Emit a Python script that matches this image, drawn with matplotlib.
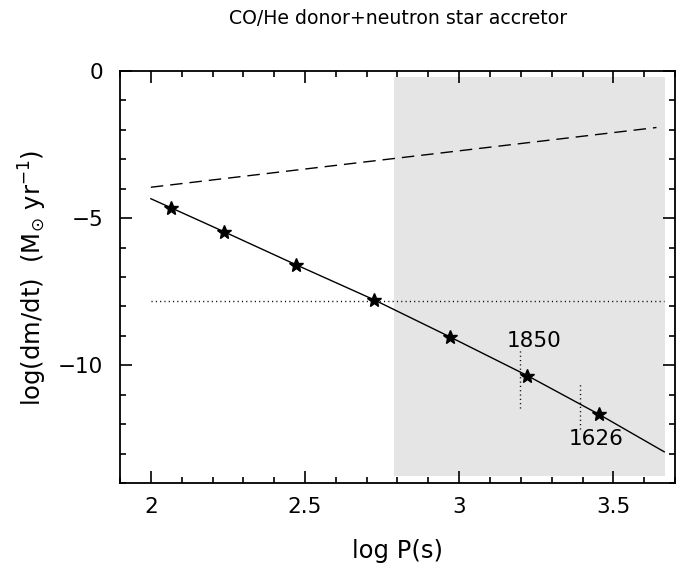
import matplotlib
matplotlib.use("Agg")
import matplotlib.pyplot as plt
from matplotlib.ticker import MultipleLocator

plt.rcParams['font.family'] = ['DejaVu Sans']

# ---- data ----
star_x = [2.066, 2.237, 2.470, 2.723, 2.969, 3.221, 3.454]
star_y = [-4.65, -5.46, -6.58, -7.77, -9.03, -10.35, -11.67]

model_x = [2.0, 2.066, 2.237, 2.470, 2.723, 2.969, 3.221, 3.454, 3.665]
model_y = [-4.34, -4.65, -5.46, -6.58, -7.77, -9.03, -10.35, -11.67, -12.94]

dashed_x = [2.0, 3.64]
dashed_y = [-3.95, -1.92]

hline_x = [2.0, 3.665]
hline_y = [-7.83, -7.83]

shade_x = [2.79, 3.667]
shade_y = [-13.77, -0.19]

mark_x = [3.197, 3.392]
mark_y_lo = [-11.45, -12.18]
mark_y_hi = [-9.47, -10.6]

label_text = ["1850", "1626"]
label_x = [3.244, 3.443]
label_y = [-9.19, -12.52]

xticks = [2, 2.5, 3, 3.5]
xticklabels = ["2", "2.5", "3", "3.5"]
yticks = [0, -5, -10]
yticklabels = ["0", "\u22125", "\u221210"]

# ---- figure ----
fig = plt.figure(figsize=(6.91, 5.67), dpi=100)
ax = fig.add_axes([120/691, 1-483/567, (675-120)/691, (483-71)/567])

ax.fill_between(shade_x, shade_y[0], shade_y[1], color='#e5e5e5', lw=0, zorder=0)

ax.plot(model_x, model_y, color='black', lw=1.0, zorder=2)
ax.plot(star_x, star_y, ls='none', marker='*', ms=10, color='black', zorder=3)

dl, = ax.plot(dashed_x, dashed_y, color='black', lw=1.0)
dl.set_dashes((9, 5))

hl, = ax.plot(hline_x, hline_y, color='black', lw=1.0)
hl.set_dashes((0.8, 2.3))

for xv, lo, hi in zip(mark_x, mark_y_lo, mark_y_hi):
    vl, = ax.plot([xv, xv], [lo, hi], color='black', lw=1.0)
    vl.set_dashes((0.8, 2.3))

for t, xv, yv in zip(label_text, label_x, label_y):
    ax.text(xv, yv, t, ha='center', va='center', fontsize=15.5)

ax.set_xlim(1.9, 3.7)
ax.set_ylim(-14, 0)
ax.set_xticks(xticks)
ax.set_xticklabels(xticklabels)
ax.set_yticks(yticks)
ax.set_yticklabels(yticklabels)
ax.xaxis.set_minor_locator(MultipleLocator(0.1))
ax.yaxis.set_minor_locator(MultipleLocator(1))

ax.tick_params(which='both', direction='in', top=True, right=True, width=1.2, colors='black')
ax.tick_params(which='major', length=8.5)
ax.tick_params(which='minor', length=4)
ax.tick_params(axis='x', which='major', pad=10, labelsize=15.5)
ax.tick_params(axis='y', which='major', pad=12, labelsize=15.5)
for s in ax.spines.values():
    s.set_linewidth(1.3)

fig.text(398/691, 1-19/567, "CO/He donor+neutron star accretor", ha='center', va='center', fontsize=13.6)
fig.text(398/691, 1-551/567, "log P(s)", ha='center', va='center', fontsize=17.5)
fig.text(33/691, 1-278/567, r"log(dm/dt)  (M$_{\odot}$ yr$^{-1}$)", ha='center', va='center',
         rotation=90, fontsize=17.5)

fig.savefig("out.png", dpi=100)
